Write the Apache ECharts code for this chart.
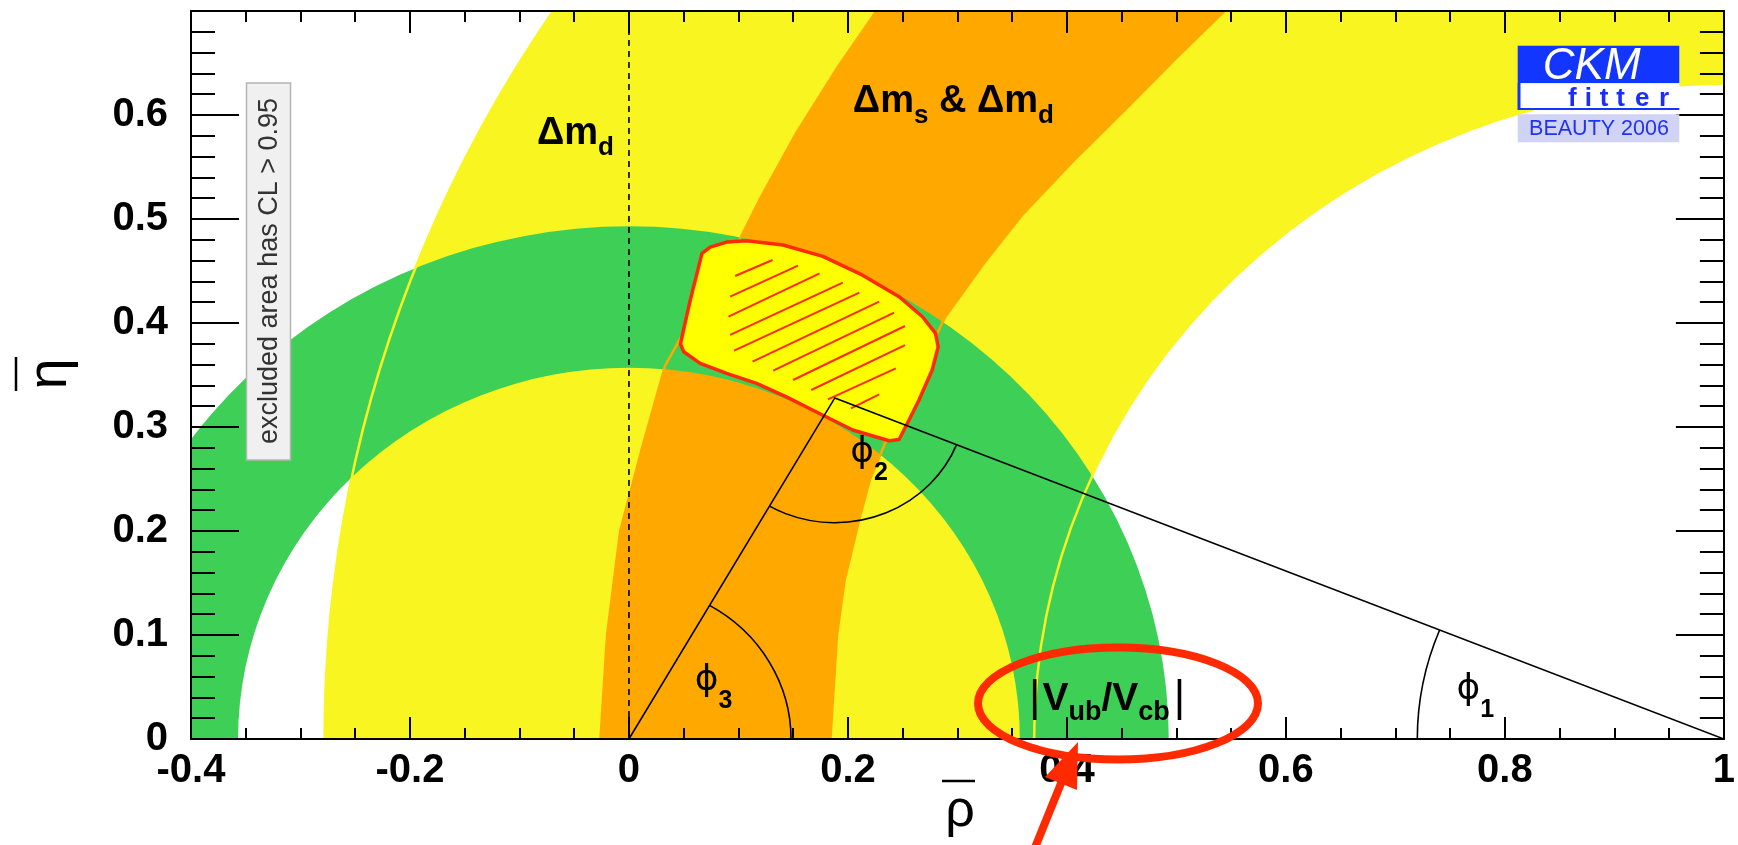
<!DOCTYPE html>
<html>
<head>
<meta charset="utf-8">
<script src="https://cdn.jsdelivr.net/npm/echarts@6/dist/echarts.min.js"></script>
<style>html,body{margin:0;padding:0;background:#fff}#chart{width:1738px;height:845px}</style>
</head>
<body>
<div id="chart"></div>
<script>
// ---------------- data ----------------
const xTickValues = [-0.4, -0.2, 0, 0.2, 0.4, 0.6, 0.8, 1];
const xTickLabels = ['-0.4', '-0.2', '0', '0.2', '0.4', '0.6', '0.8', '1'];
const yTickValues = [0, 0.1, 0.2, 0.3, 0.4, 0.5, 0.6, 0.7];
const yTickLabels = ['0', '0.1', '0.2', '0.3', '0.4', '0.5', '0.6', ''];

// Δm_d constraint (yellow): band centred on (1,0)
const dmdCenter = [1, 0];
const dmdRadii = [0.63, 1.278];
// |Vub/Vcb| constraint (green): band centred on (0,0)
const vubCenter = [0, 0];
const vubRadii = [0.357, 0.493];
// Δm_s & Δm_d constraint (orange): band edges [rho, eta]
const dmsOuterEdge = [[-0.03,-0.05],[-0.026,0],[-0.02,0.1],[-0.008,0.2],[0.012,0.28],[0.033,0.359],[0.06,0.41],[0.09,0.457],[0.12,0.52],[0.153,0.583],[0.19,0.645],[0.226,0.7],[0.245,0.73]];
const dmsInnerEdge = [[0.182,-0.05],[0.184,0],[0.19,0.1],[0.197,0.153],[0.21,0.21],[0.22,0.249],[0.24,0.3],[0.263,0.35],[0.289,0.406],[0.326,0.46],[0.36,0.505],[0.405,0.555],[0.456,0.608],[0.50,0.655],[0.544,0.7],[0.565,0.73]];
// global fit, CL 95% contour
const fitContour = [[0.0742,0.473],[0.0900,0.478],[0.1075,0.479],[0.1408,0.475],[0.1771,0.464],[0.2134,0.446],[0.2467,0.4253],[0.268,0.406],[0.280,0.390],[0.2824,0.377],[0.277,0.355],[0.2649,0.326],[0.2558,0.3067],[0.2467,0.288],[0.2376,0.2868],[0.2044,0.2971],[0.174,0.313],[0.1438,0.329],[0.1166,0.342],[0.0893,0.3516],[0.0651,0.3612],[0.050,0.3724],[0.047,0.380],[0.056,0.422],[0.0667,0.467]];
// hatching inside the fit contour: [rho1, eta1, rho2, eta2]
const fitHatch = [
  [0.0969,0.4452,0.1311,0.4606],[0.0924,0.4253,0.1544,0.4551],[0.0909,0.4061,0.1741,0.4478],
  [0.0924,0.3885,0.1953,0.4388],[0.0960,0.3734,0.2104,0.4292],[0.1129,0.3628,0.2285,0.4205],
  [0.1317,0.3542,0.2422,0.4099],[0.1499,0.3452,0.2521,0.3971],[0.1665,0.3356,0.2521,0.3788],
  [0.1817,0.3266,0.2437,0.3564],[0.2028,0.3180,0.2285,0.3314]
];
// unitarity triangle
const triangle = [[0, 0], [0.188, 0.328], [1, 0]];
const angleRadius = {phi1: 0.28, phi2: 0.12, phi3: 0.148};
// text annotations [rho, eta]
const labelAnchors = {
  dmd: [-0.084, 0.582], dmsdmd: [0.2045, 0.613], vub: [0.3654, 0.0385],
  phi1: [0.7558, 0.0471], phi2: [0.202, 0.275], phi3: [0.060, 0.0558]
};

// ---------------- rendering ----------------
const C = {yellow:'#f8f520', orange:'#ffa900', green:'#3ecf57', fit:'#ffff00', red:'#ff2a00'};
const FONT = '"Liberation Sans", Arial, sans-serif';
const chart = echarts.init(document.getElementById('chart'));
const mctx = document.createElement('canvas').getContext('2d');
function tw(t, font){ mctx.font = font; return mctx.measureText(t).width; }

function clip(params){
  const c = params.coordSys;
  return {type:'rect', shape:{x:c.x, y:c.y, width:c.width, height:c.height}};
}
function ringEl(api, center, radii, color){
  const c = api.coord(center), s = api.size([1,1]);
  return {type:'ring', x:c[0], y:c[1], scaleY:s[1]/s[0],
    shape:{cx:0, cy:0, r0:radii[0]*s[0], r:radii[1]*s[0]}, style:{fill:color}};
}
function arcEl(api, center, r, fromA, toA, style){
  const c = api.coord(center), s = api.size([1,1]);
  return {type:'arc', x:c[0], y:c[1], scaleY:s[1]/s[0],
    shape:{cx:0, cy:0, r:r*s[0], startAngle:-toA, endAngle:-fromA, clockwise:true},
    style:Object.assign({fill:null}, style)};
}
function labelEls(api, anchor, parts){
  const p = api.coord(anchor);
  let x = p[0]; const out = [];
  parts.forEach(q => {
    const font = (q.bold ? 'bold ' : '') + q.size + 'px ' + (q.family || FONT);
    out.push({type:'text', x:x, y:p[1] + (q.dy || 0),
      style:{text:q.t, font:font, fill:'#000', textAlign:'left', textVerticalAlign:'middle', align:'left', verticalAlign:'middle'}});
    x += tw(q.t, font) + (q.gap || 0);
  });
  return out;
}

const series = [
  { // Δm_d band
    type:'custom', coordinateSystem:'cartesian2d', data:[[0,0]], silent:true,
    renderItem:(params, api) => ({type:'group', clipPath:clip(params), children:[ringEl(api, dmdCenter, dmdRadii, C.yellow)]})
  },
  { // Δm_s & Δm_d band
    type:'custom', coordinateSystem:'cartesian2d', data:[[0,0]], silent:true,
    renderItem:(params, api) => {
      const pts = dmsOuterEdge.map(p => api.coord(p)).concat(dmsInnerEdge.slice().reverse().map(p => api.coord(p)));
      return {type:'group', clipPath:clip(params), children:[{type:'polygon', shape:{points:pts}, style:{fill:C.orange}}]};
    }
  },
  { // |Vub/Vcb| band
    type:'custom', coordinateSystem:'cartesian2d', data:[[0,0]], silent:true,
    renderItem:(params, api) => ({type:'group', clipPath:clip(params), children:[ringEl(api, vubCenter, vubRadii, C.green)]})
  },
  { // constraint edge lines seen through the green band
    type:'custom', coordinateSystem:'cartesian2d', data:[[0,0]], silent:true,
    renderItem:(params, api) => {
      const ch = dmdRadii.map(r => arcEl(api, dmdCenter, r, 0, Math.PI*2, {stroke:C.yellow, lineWidth:2.5}));
      [dmsOuterEdge, dmsInnerEdge].forEach(e => ch.push({type:'polyline', shape:{points:e.map(p => api.coord(p))}, style:{stroke:C.orange, lineWidth:2.5, fill:null}}));
      return {type:'group', clipPath:clip(params), children:ch};
    }
  },
  { // global fit region
    type:'custom', coordinateSystem:'cartesian2d', data:[[0,0]], silent:true,
    renderItem:(params, api) => {
      const ch = [{type:'polygon', shape:{points:fitContour.map(p => api.coord(p))}, style:{fill:C.fit, stroke:C.red, lineWidth:3.5, lineJoin:'round'}}];
      fitHatch.forEach(h => {
        const a = api.coord([h[0], h[1]]), b = api.coord([h[2], h[3]]);
        ch.push({type:'line', shape:{x1:a[0], y1:a[1], x2:b[0], y2:b[1]}, style:{stroke:C.red, lineWidth:2}});
      });
      return {type:'group', children:ch};
    }
  },
  { // triangle, dashed line and angles
    type:'custom', coordinateSystem:'cartesian2d', data:[[0,0]], silent:true,
    renderItem:(params, api) => {
      const A = triangle[1];
      const ln = {stroke:'#000', lineWidth:1.6};
      const t3 = Math.atan2(A[1], A[0]);
      const tL = Math.atan2(-A[1], -A[0]) + 2*Math.PI;
      const tR = Math.atan2(-A[1], 1 - A[0]) + 2*Math.PI;
      const t1 = Math.atan2(A[1], A[0] - 1);
      const z0 = api.coord([0, 0]), z1 = api.coord([0, 0.7]);
      return {type:'group', clipPath:clip(params), children:[
        {type:'line', shape:{x1:z0[0], y1:z0[1], x2:z1[0], y2:z1[1]}, style:{stroke:'#000', lineWidth:1.6, lineDash:[6,5]}},
        {type:'polyline', shape:{points:triangle.map(p => api.coord(p))}, style:Object.assign({fill:null}, ln)},
        arcEl(api, triangle[0], angleRadius.phi3, 0, t3, ln),
        arcEl(api, A, angleRadius.phi2, tL, tR, ln),
        arcEl(api, triangle[2], angleRadius.phi1, t1, Math.PI, ln)
      ]};
    }
  },
  { // labels
    type:'custom', coordinateSystem:'cartesian2d', data:[[0,0]], silent:true,
    renderItem:(params, api) => {
      const ph = '"DejaVu Sans", sans-serif';
      let ch = [];
      ch = ch.concat(labelEls(api, labelAnchors.dmd, [{t:'Δm', size:38, bold:true}, {t:'d', size:26, bold:true, dy:14}]));
      ch = ch.concat(labelEls(api, labelAnchors.dmsdmd, [{t:'Δm', size:38, bold:true}, {t:'s', size:26, bold:true, dy:14}, {t:' & Δm', size:38, bold:true}, {t:'d', size:26, bold:true, dy:14}]));
      ch = ch.concat(labelEls(api, labelAnchors.vub, [{t:'|', size:44, gap:2}, {t:'V', size:39, bold:true}, {t:'ub', size:27, bold:true, dy:14}, {t:'/', size:39, bold:true}, {t:'V', size:39, bold:true}, {t:'cb', size:27, bold:true, dy:14, gap:4}, {t:'|', size:44}]));
      ch = ch.concat(labelEls(api, labelAnchors.phi1, [{t:'ϕ', size:36, family:ph}, {t:'1', size:25, bold:true, dy:20}]));
      ch = ch.concat(labelEls(api, labelAnchors.phi2, [{t:'ϕ', size:36, family:ph}, {t:'2', size:25, bold:true, dy:20}]));
      ch = ch.concat(labelEls(api, labelAnchors.phi3, [{t:'ϕ', size:36, family:ph}, {t:'3', size:25, bold:true, dy:20}]));
      return {type:'group', children:ch};
    }
  }
];

const tickLine = {color:'#000', width:2};
function xAxisDef(pos, showLabel){
  return {type:'value', position:pos, min:xTickValues[0], max:xTickValues[xTickValues.length-1], interval:0.2, z:10,
    axisLine:{show:true, onZero:false, lineStyle:{color:'#000', width:2}},
    splitLine:{show:false},
    axisTick:{show:true, inside:true, length:22, lineStyle:tickLine},
    minorTick:{show:true, splitNumber:4, length:11, lineStyle:tickLine},
    axisLabel:{show:showLabel, margin:12, fontFamily:FONT, fontWeight:'bold', fontSize:40, color:'#000',
      formatter:v => xTickLabels[xTickValues.findIndex(t => Math.abs(t - v) < 1e-6)] || ''}
  };
}
function yAxisDef(pos, showLabel){
  return {type:'value', position:pos, min:yTickValues[0], max:yTickValues[yTickValues.length-1], interval:0.1, z:10,
    axisLine:{show:true, onZero:false, lineStyle:{color:'#000', width:2}},
    splitLine:{show:false},
    axisTick:{show:true, inside:true, length:48, lineStyle:tickLine},
    minorTick:{show:true, splitNumber:5, length:24, lineStyle:tickLine},
    axisLabel:{show:showLabel, margin:23, fontFamily:FONT, fontWeight:'bold', fontSize:40, color:'#000', showMaxLabel:false,
      formatter:v => yTickLabels[yTickValues.findIndex(t => Math.abs(t - v) < 1e-6)] || ''}
  };
}

const txt = (o) => Object.assign({}, o, {style:Object.assign({}, o.style, {align:o.style.textAlign, verticalAlign:o.style.textVerticalAlign})});

chart.setOption({
  animation:false,
  backgroundColor:'#fff',
  grid:{left:191, top:11, right:5, bottom:106, containLabel:false},
  xAxis:[xAxisDef('bottom', true), xAxisDef('top', false)],
  yAxis:[yAxisDef('left', true), yAxisDef('right', false)],
  series:series,
  graphic:[
    // excluded area box
    {type:'rect', z:100, shape:{x:246.5, y:83, width:44, height:377}, style:{fill:'#f0f0f0', stroke:'#b4b4b4', lineWidth:1.5}},
    txt({type:'text', z:101, x:270, y:271, rotation:Math.PI/2, style:{text:'excluded area has CL > 0.95', font:'27px ' + FONT, fill:'#333', textAlign:'center', textVerticalAlign:'middle'}}),
    // CKMfitter logo
    {type:'rect', z:100, shape:{x:1517.7, y:45.7, width:161.6, height:37.6}, style:{fill:'#1236ff'}},
    {type:'rect', z:100, shape:{x:1518.7, y:83.3, width:160.6, height:25.7}, style:{fill:'#fff'}},
    {type:'line', z:101, shape:{x1:1519, y1:83, x2:1519, y2:110}, style:{stroke:'#1236ff', lineWidth:3}},
    {type:'line', z:101, shape:{x1:1518, y1:109, x2:1679.3, y2:109}, style:{stroke:'#1236ff', lineWidth:2}},
    {type:'rect', z:100, shape:{x:1517.7, y:114.3, width:161.6, height:28}, style:{fill:'#d0d3f4'}},
    txt({type:'text', z:101, x:1591.7, y:66.5, style:{text:'CKM', font:'italic 44px ' + FONT, fill:'#fff', textAlign:'center', textVerticalAlign:'middle'}}),
    txt({type:'text', z:101, x:1572.3, y:99, style:{text:'f', font:'bold 26px ' + FONT, fill:'#1a2cff', textAlign:'center', textVerticalAlign:'middle'}}),
    txt({type:'text', z:101, x:1588.3, y:99, style:{text:'i', font:'bold 26px ' + FONT, fill:'#1a2cff', textAlign:'center', textVerticalAlign:'middle'}}),
    txt({type:'text', z:101, x:1604, y:99, style:{text:'t', font:'bold 26px ' + FONT, fill:'#1a2cff', textAlign:'center', textVerticalAlign:'middle'}}),
    txt({type:'text', z:101, x:1620.7, y:99, style:{text:'t', font:'bold 26px ' + FONT, fill:'#1a2cff', textAlign:'center', textVerticalAlign:'middle'}}),
    txt({type:'text', z:101, x:1642.3, y:99, style:{text:'e', font:'bold 26px ' + FONT, fill:'#1a2cff', textAlign:'center', textVerticalAlign:'middle'}}),
    txt({type:'text', z:101, x:1664, y:99, style:{text:'r', font:'bold 26px ' + FONT, fill:'#1a2cff', textAlign:'center', textVerticalAlign:'middle'}}),
    txt({type:'text', z:101, x:1599, y:129, style:{text:'BEAUTY 2006', font:'21.5px ' + FONT, fill:'#2233ee', textAlign:'center', textVerticalAlign:'middle'}}),
    // axis titles
    txt({type:'text', z:101, x:51, y:374, rotation:Math.PI/2, style:{text:'η', font:'56px ' + FONT, fill:'#000', textAlign:'center', textVerticalAlign:'middle'}}),
    {type:'line', z:101, shape:{x1:16, y1:357, x2:16, y2:391}, style:{stroke:'#000', lineWidth:2.5}},
    txt({type:'text', z:101, x:960, y:812, style:{text:'ρ', font:'52px ' + FONT, fill:'#000', textAlign:'center', textVerticalAlign:'middle'}}),
    {type:'line', z:101, shape:{x1:942, y1:781, x2:975, y2:781}, style:{stroke:'#000', lineWidth:2.5}},
    // red annotation
    {type:'ellipse', z:120, shape:{cx:1118, cy:703.5, rx:140, ry:56}, style:{fill:null, stroke:'#ff2a00', lineWidth:8}},
    {type:'line', z:120, shape:{x1:1034, y1:850, x2:1064, y2:776}, style:{stroke:'#ff2a00', lineWidth:8}},
    {type:'polygon', z:120, shape:{points:[[1078,742],[1045,777],[1077,790]]}, style:{fill:'#ff2a00'}}
  ]
});
</script>
</body>
</html>
